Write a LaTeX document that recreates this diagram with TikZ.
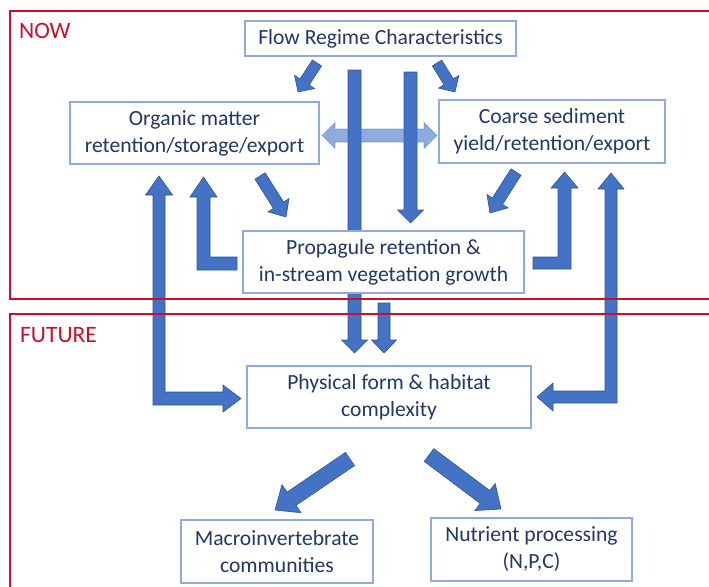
\documentclass[tikz,border=0pt]{standalone}
\usepackage{fontspec}
\setmainfont{Carlito}
\usetikzlibrary{calc}
\definecolor{txtblue}{RGB}{31,56,100}
\definecolor{boxline}{RGB}{143,170,220}
\definecolor{arrfill}{RGB}{68,114,196}
\definecolor{arrline}{RGB}{47,85,151}
\definecolor{framered}{RGB}{200,16,46}
% straight block arrow: #1 tail, #2 tip, #3 shaft half width, #4 head half width, #5 head length
\newcommand\blockarr[5]{%
  \coordinate (bh) at ($(#2)!#5!(#1)$);
  \draw[barrow] ($(#1)!#3!90:(#2)$) -- ($(bh)!#3!90:(#2)$) -- ($(bh)!#4!90:(#2)$) -- (#2)
    -- ($(bh)!#4!-90:(#2)$) -- ($(bh)!#3!-90:(#2)$) -- ($(#1)!#3!-90:(#2)$) -- cycle;}
\begin{document}
\begin{tikzpicture}[x=1pt,y=-1pt,
  box/.style={draw=boxline, line width=1.2pt, fill=white, text=txtblue, align=center,
    inner sep=0pt, font=\fontsize{21.6}{27}\selectfont},
  barrow/.style={fill=arrfill, draw=arrline, line width=0.6pt, line join=miter},
  lightarrow/.style={fill=arrfill, fill opacity=0.6, draw=arrfill, draw opacity=0.5, line width=0.6pt},
  frame/.style={draw=framered, line width=1.5pt},
  lbl/.style={text=framered, font=\fontsize{23.5}{28}\selectfont, anchor=west, inner sep=0pt}]
\useasboundingbox (0,0) rectangle (709,586);
\clip (0,0) rectangle (709,586);

% long vertical arrow (behind the propagule box)
\coordinate (a5t) at (354.5,70);
\coordinate (a5h) at (354.5,353);
\blockarr{a5t}{a5h}{6.5pt}{13pt}{13pt}

% boxes
\node[box, minimum width=271, minimum height=35] (flow) at (380.5,38.5) {Flow Regime Characteristics};
\node[box, minimum width=249, minimum height=62] (org) at (194.5,133) {Organic matter\\retention/storage/export};
\node[box, minimum width=226, minimum height=63] (coarse) at (552,131.5) {Coarse sediment\\yield/retention/export};
\node[box, minimum width=281, minimum height=62] (prop) at (383.5,262) {Propagule retention \&\\in-stream vegetation growth};
\node[box, minimum width=284, minimum height=62] (phys) at (389,397) {Physical form \& habitat\\complexity};
\node[box, minimum width=192, minimum height=63] (macro) at (277,551.5) {Macroinvertebrate\\communities};
\node[box, minimum width=201, minimum height=63] (nutr) at (531.5,549.5) {Nutrient processing\\(N,P,C)};

% straight arrows
\coordinate (a1t) at (317,63);   \coordinate (a1h) at (298,92);
\coordinate (a2t) at (437,63);   \coordinate (a2h) at (455,92);
\coordinate (a3t) at (260,176);  \coordinate (a3h) at (286,217);
\coordinate (a4t) at (516,172);  \coordinate (a4h) at (490,213);
\coordinate (a6t) at (410.5,72); \coordinate (a6h) at (410.5,223);
\coordinate (a7t) at (384,303);  \coordinate (a7h) at (384,353);
\coordinate (a8t) at (350,459);  \coordinate (a8h) at (275,510);
\coordinate (a9t) at (429,455);  \coordinate (a9h) at (501,509);
\blockarr{a1t}{a1h}{5.5pt}{12pt}{12pt}
\blockarr{a2t}{a2h}{5.5pt}{12pt}{12pt}
\blockarr{a3t}{a3h}{6pt}{12.5pt}{14pt}
\blockarr{a4t}{a4h}{6pt}{12.5pt}{14pt}
\blockarr{a6t}{a6h}{6.5pt}{13pt}{13pt}
\blockarr{a7t}{a7h}{6pt}{12.5pt}{13pt}
\blockarr{a8t}{a8h}{8pt}{17pt}{20pt}
\blockarr{a9t}{a9h}{8pt}{17pt}{20pt}

% elbow arrows
\draw[barrow] (237,257) -- (210,257) -- (210,197) -- (217,197) -- (203.5,177) -- (190,197)
  -- (197,197) -- (197,270) -- (237,270) -- cycle;
\draw[barrow] (533,257) -- (558,257) -- (558,188) -- (551,188) -- (564.5,172) -- (578,188)
  -- (571,188) -- (571,269) -- (533,269) -- cycle;
\draw[barrow] (159,176) -- (172.5,195) -- (165,195) -- (165,392) -- (223,392) -- (223,385)
  -- (241,398.5) -- (223,412) -- (223,405) -- (153,405) -- (153,195) -- (145.5,195) -- cycle;
\draw[barrow] (611,173) -- (624,189) -- (617,189) -- (617,403) -- (553,403) -- (553,411)
  -- (537,397) -- (553,383) -- (553,391) -- (605,391) -- (605,189) -- (598,189) -- cycle;

% light double arrow between organic matter and coarse sediment
\draw[lightarrow] (322,135.5) -- (335,122.5) -- (335,129) -- (424,129) -- (424,122.5)
  -- (437,135.5) -- (424,148.5) -- (424,142) -- (335,142) -- (335,148.5) -- cycle;

% frames
\draw[frame] (10,11) rectangle (720,299);
\draw[frame] (10,314) rectangle (720,600);
\node[lbl] (now) at (19,31) {NOW};
\node[lbl] (future) at (20,335) {FUTURE};
\end{tikzpicture}
\end{document}
